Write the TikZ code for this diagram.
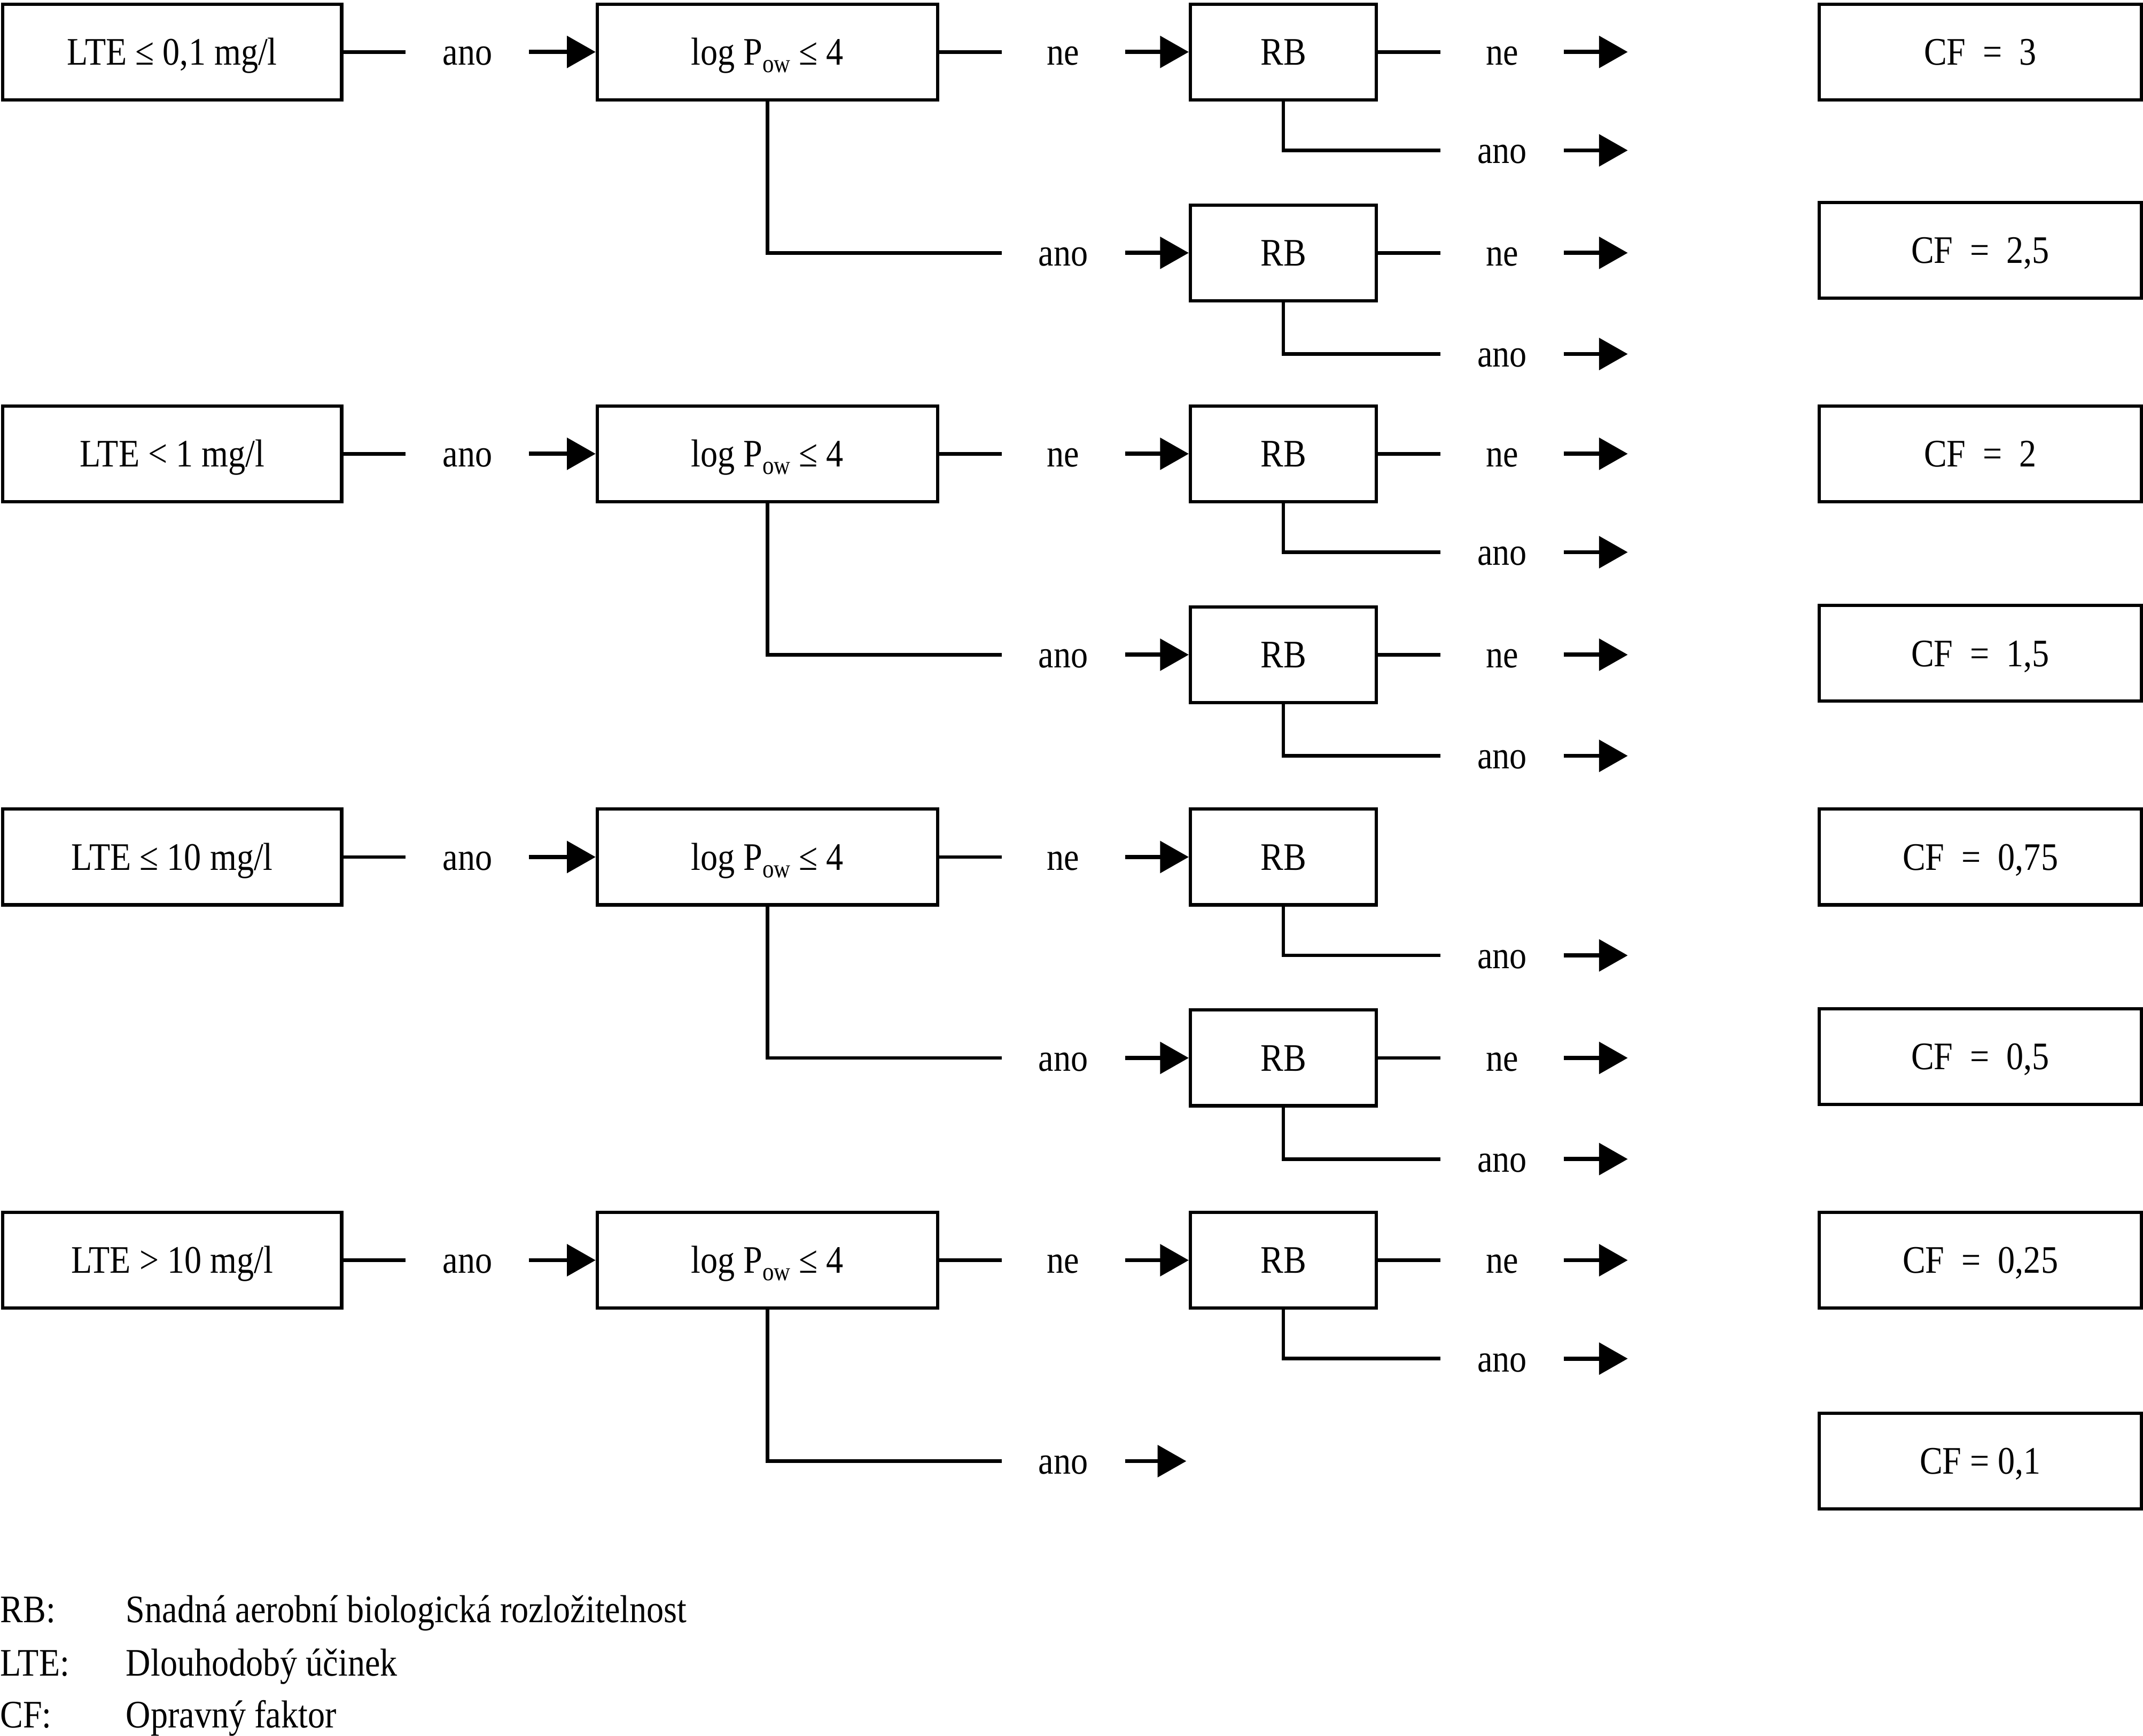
\documentclass[tikz,border=0pt]{standalone}
\usepackage{fontspec}
\setmainfont{Liberation Serif}[FakeStretch=0.88]
\usetikzlibrary{arrows.meta}
\newcommand\owsub{\raisebox{-5.5pt}{\fontsize{19}{20}\selectfont ow}}
\begin{document}
\begin{tikzpicture}[x=1pt,y=-1pt,
  every node/.style={font=\fontsize{28.5}{32}\selectfont},
  box/.style={draw,line width=2.4pt,inner sep=0pt,minimum height=70pt,text height=19pt,text depth=0pt},
  ltebox/.style={box,minimum width=248pt},
  logbox/.style={box,minimum width=249pt},
  rbbox/.style={box,minimum width=136pt},
  cfbox/.style={box,minimum width=236pt},
  lbl/.style={inner sep=0pt,minimum width=90pt,text height=19pt,text depth=0pt},
  ln/.style={line width=2.6pt,line join=miter},
  arr/.style={line width=3pt,-{Triangle[length=21pt,width=23pt]}},
  legend/.style={inner sep=0pt,anchor=base west}]
\useasboundingbox (0,0) rectangle (1568,1270);

\foreach \i/\B/\t in {1/38/{LTE ≤ 0,1 mg/l},2/332/{LTE < 1 mg/l},3/627/{LTE ≤ 10 mg/l},4/922/{LTE > 10 mg/l}}{
  \node[ltebox] (lte\i) at (126,\B) {\t};
  \node[lbl] (yA\i) at (342,\B) {ano};
  \node[logbox] (log\i) at (561.5,\B) {log P\owsub\ ≤ 4};
  \node[lbl] (nA\i) at (778,\B) {ne};
  \node[rbbox] (rbA\i) at (939,\B) {RB};
  \node[lbl] (yB\i) at (1099,{\B+72}) {ano};
  \coordinate (eB\i) at (1191,{\B+72});
  \node[lbl] (yC\i) at (778,{\B+147}) {ano};
  \draw[ln] (lte\i) -- (yA\i);
  \draw[arr] (yA\i) -- (log\i);
  \draw[ln] (log\i) -- (nA\i);
  \draw[arr] (nA\i) -- (rbA\i);
  \draw[ln] (rbA\i.south) |- (yB\i.west);
  \draw[arr] (yB\i) -- (eB\i);
  \draw[ln] (log\i.south) |- (yC\i.west);
}

\foreach \i/\B in {1/38,2/332,4/922}{
  \node[lbl] (nB\i) at (1099,\B) {ne};
  \coordinate (eA\i) at (1191,\B);
  \draw[ln] (rbA\i) -- (nB\i);
  \draw[arr] (nB\i) -- (eA\i);
}

\foreach \i/\B in {1/38,2/332,3/627}{
  \node[rbbox] (rbB\i) at (939,{\B+147}) {RB};
  \draw[arr] (yC\i) -- (rbB\i);
  \node[lbl] (nC\i) at (1099,{\B+147}) {ne};
  \coordinate (eC\i) at (1191,{\B+147});
  \draw[ln] (rbB\i) -- (nC\i);
  \draw[arr] (nC\i) -- (eC\i);
  \node[lbl] (yD\i) at (1099,{\B+221}) {ano};
  \coordinate (eD\i) at (1191,{\B+221});
  \draw[ln] (rbB\i.south) |- (yD\i.west);
  \draw[arr] (yD\i) -- (eD\i);
}
\coordinate (eC4) at (868,1069);
\draw[arr] (yC4) -- (eC4);

\node[cfbox] (cf1) at (1449,38) {CF\ \ =\ \ 3};
\node[cfbox] (cf2) at (1449,183) {CF\ \ =\ \ 2,5};
\node[cfbox] (cf3) at (1449,332) {CF\ \ =\ \ 2};
\node[cfbox] (cf4) at (1449,478) {CF\ \ =\ \ 1,5};
\node[cfbox] (cf5) at (1449,627) {CF\ \ =\ \ 0,75};
\node[cfbox] (cf6) at (1449,773) {CF\ \ =\ \ 0,5};
\node[cfbox] (cf7) at (1449,922) {CF\ \ =\ \ 0,25};
\node[cfbox] (cf8) at (1449,1069) {CF = 0,1};

\node[legend] (k1) at (0,1187) {RB:};
\node[legend] (v1) at (92,1187) {Snadná aerobní biologická rozložitelnost};
\node[legend] (k2) at (0,1226) {LTE:};
\node[legend] (v2) at (92,1226) {Dlouhodobý účinek};
\node[legend] (k3) at (0,1264) {CF:};
\node[legend] (v3) at (92,1264) {Opravný faktor};
\end{tikzpicture}
\end{document}
